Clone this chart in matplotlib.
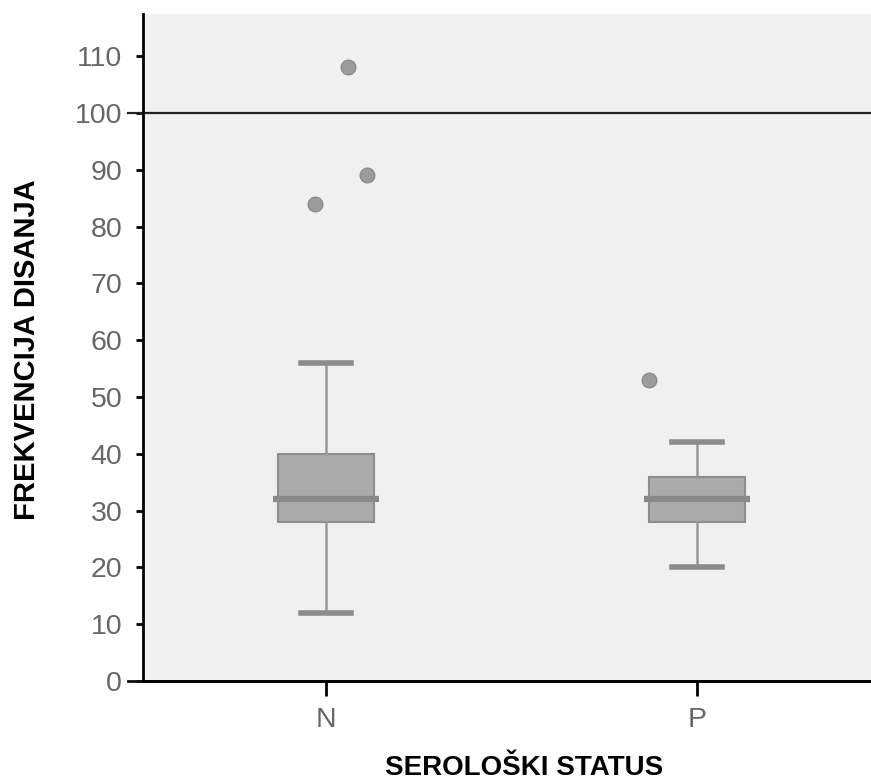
import matplotlib.pyplot as plt

# data
groups = ['N', 'P']
q1 = [28, 28]
med = [32, 32]
q3 = [40, 36]
whislo = [12, 20]
whishi = [56, 42]
fliers = [[108, 89, 84], [53]]
flier_x = [[0.06, 0.11, -0.03], [-0.13]]  # horizontal jitter of outliers

plt.rcParams['font.family'] = ['Liberation Sans', 'DejaVu Sans']

fig = plt.figure(figsize=(8.71, 7.81), dpi=100)
ax = fig.add_axes([0.1642, 0.128, 0.8358, 0.854])
ax.set_facecolor('#f0f0f0')

stats = []
for i, g in enumerate(groups):
    stats.append(dict(label=g, q1=q1[i], med=med[i], q3=q3[i],
                      whislo=whislo[i], whishi=whishi[i], fliers=[]))

pos = list(range(len(groups)))
ax.bxp(stats, positions=pos, widths=0.26, patch_artist=True, showfliers=False,
       boxprops=dict(facecolor='#ababab', edgecolor='#8e8e8e', linewidth=1.5),
       whiskerprops=dict(color='#999999', linewidth=1.8),
       capprops=dict(color='#8c8c8c', linewidth=4),
       medianprops=dict(linewidth=0),
       capwidths=0.135)

# median lines slightly wider than the box
ax.hlines(med, [p - 0.143 for p in pos], [p + 0.143 for p in pos],
          colors='#888888', linewidth=4.5, zorder=4)

for i, p in enumerate(pos):
    ax.scatter([p + dx for dx in flier_x[i]], fliers[i], s=110,
               color='#9c9c9c', edgecolor='#8a8a8a', linewidth=1, zorder=4)

ax.axhline(100, xmin=-0.02, color='#222222', linewidth=1.6, clip_on=False)
ax.axhline(0, xmin=-0.02, color='#111111', linewidth=2, clip_on=False)

ax.set_xlim(-0.493, 1.469)
ax.set_ylim(0, 117.4)
ax.set_yticks(range(0, 111, 10))
ax.set_xticks(pos)
ax.set_xticklabels(groups)

for s in ['top', 'right']:
    ax.spines[s].set_visible(False)
ax.spines['left'].set_linewidth(2)
ax.spines['bottom'].set_linewidth(2)
ax.tick_params(axis='y', length=5, width=2, labelsize=20.5, labelcolor='#666666', pad=10)
ax.tick_params(axis='x', length=11, width=2, labelsize=20.5, labelcolor='#666666', pad=8)

fig.text(0.6016, 0.0166, 'SEROLOŠKI STATUS', fontsize=20, fontweight='bold',
         ha='center', va='center')
fig.text(0.031, 0.552, 'FREKVENCIJA DISANJA', fontsize=21, fontweight='bold',
         rotation=90, ha='center', va='center')

plt.savefig('out.png')
